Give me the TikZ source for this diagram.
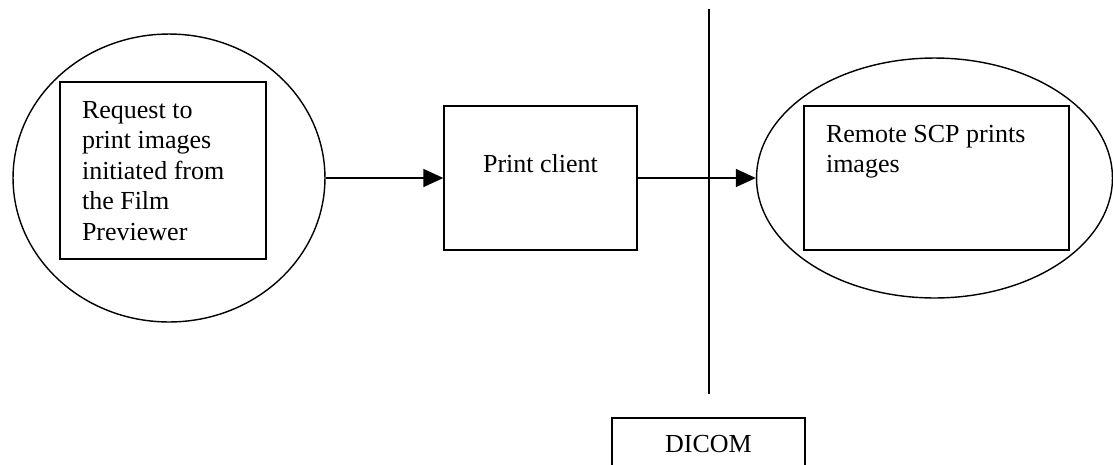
\documentclass[tikz,border=0pt]{standalone}
\usepackage{fontspec}
\setmainfont{Liberation Serif}
\usetikzlibrary{shapes.geometric,arrows.meta}

\begin{document}
\begin{tikzpicture}[x=0.02cm, y=-0.02cm, line width=0.8pt,
    every node/.style={font=\fontsize{14.8pt}{17.3pt}\selectfont},
    box/.style={draw, rectangle, inner sep=0pt},
    oval/.style={draw, ellipse, inner sep=0pt},
    txt/.style={inner sep=0pt, align=left, anchor=north west},
    flow/.style={-{Triangle[length=4mm,width=3.6mm]}}]
    \useasboundingbox (0,0) rectangle (1113,464);
    \clip (0,0) rectangle (1113,464);

    % Film Previewer request
    \node[oval, minimum width=6.24cm, minimum height=5.76cm] (req) at (169,178) {};
    \node[box, minimum width=4.12cm, minimum height=3.54cm] (reqbox) at (163,170.5) {};
    \node[txt] (reqtxt) at ([shift={(22,19.5)}]reqbox.north west)
        {Request to\\print images\\initiated from\\the Film\\Previewer};

    % Print client
    \node[box, minimum width=3.86cm, minimum height=2.88cm] (client) at (540.5,178) {};
    \node[inner sep=0pt, anchor=north] (clienttxt) at ([shift={(0,48)}]client.north) {Print client};

    % Remote SCP
    \node[oval, minimum width=7.12cm, minimum height=4.8cm] (scp) at (934.5,178) {};
    \node[box, minimum width=5.3cm, minimum height=2.88cm] (scpbox) at (936.5,178) {};
    \node[txt] (scptxt) at ([shift={(22,19)}]scpbox.north west)
        {Remote SCP prints\\images};

    % DICOM boundary
    \coordinate (divtop) at (709,9);
    \coordinate (divbot) at (709,394);
    \draw (divtop) -- (divbot);
    \node[box, minimum width=3.86cm, minimum height=1.06cm] (dicom) at (708.5,444.5) {DICOM};

    % Arrows
    \draw[flow] (req) -- (client);
    \draw[flow] (client) -- (scp);
\end{tikzpicture}
\end{document}
